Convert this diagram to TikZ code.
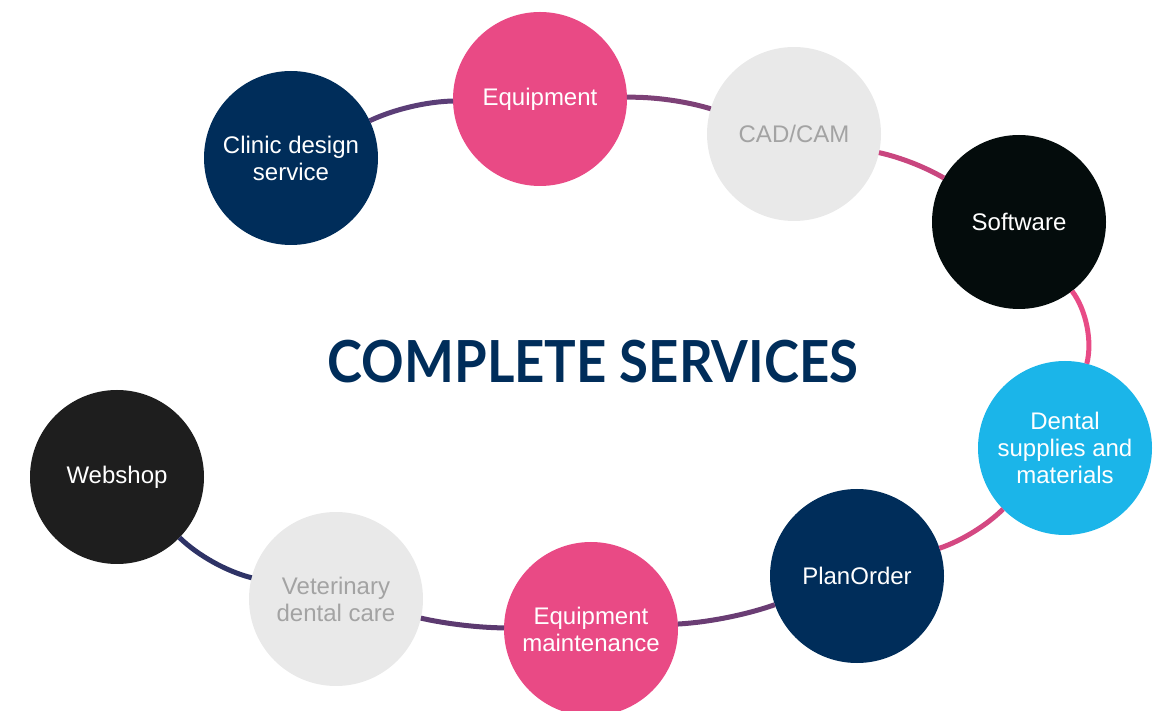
\documentclass[tikz,border=0pt]{standalone}
\usepackage{fontspec}
\setmainfont{Liberation Sans}
\newfontfamily\titlefont{Lato}
\usepackage{tikz}
\definecolor{navy}{HTML}{002D5A}
\definecolor{rose}{HTML}{E94A85}
\definecolor{pale}{HTML}{E9E9E9}
\definecolor{paletext}{HTML}{A3A3A3}
\definecolor{ink}{HTML}{040C0C}
\definecolor{sky}{HTML}{1BB5E9}
\definecolor{coal}{HTML}{1E1E1E}
\definecolor{lineA}{HTML}{5B3E77}
\definecolor{lineB}{HTML}{7D4177}
\definecolor{lineC}{HTML}{C9467F}
\definecolor{lineD}{HTML}{E84B86}
\definecolor{lineE}{HTML}{D44882}
\definecolor{lineF}{HTML}{6A3D74}
\definecolor{lineG}{HTML}{5C3A70}
\definecolor{lineH}{HTML}{2E3366}
\tikzstyle{service}=[circle, inner sep=0, outer sep=0, minimum size=174pt, align=center,
                     text=white, font=\fontsize{24}{27}\selectfont]
\tikzstyle{link}=[line width=5pt, looseness=0.8]
\begin{document}
\begin{tikzpicture}[x=1pt, y=1pt]
        \useasboundingbox (0, 0) rectangle (1157, 710);
        \node[service, fill=navy] (S1) at (291, 552) {Clinic design\\service};
        \node[service, fill=rose] (S2) at (540, 611) {Equipment};
        \node[service, fill=pale, text=paletext] (S3) at (794, 576) {CAD/CAM};
        \node[service, fill=ink] (S4) at (1019, 488) {Software};
        \node[service, fill=sky] (S5) at (1065, 262) {Dental\\supplies and\\materials};
        \node[service, fill=navy] (S6) at (857, 134) {PlanOrder};
        \node[service, fill=rose] (S7) at (591, 81) {Equipment\\maintenance};
        \node[service, fill=pale, text=paletext] (S8) at (336, 111) {Veterinary\\dental care};
        \node[service, fill=coal] (S9) at (117, 233) {Webshop};
        \draw[link, lineA] (S1) to[bend left=12] (S2);
        \draw[link, lineB] (S2) to[bend left=9] (S3);
        \draw[link, lineC] (S3) to[bend left=9] (S4);
        \draw[link, lineD] (S4) to[bend left=26] (S5);
        \draw[link, lineE] (S5) to[bend left=13] (S6);
        \draw[link, lineF] (S6) to[bend left=8] (S7);
        \draw[link, lineG] (S7) to[bend left=6] (S8);
        \draw[link, lineH] (S8) to[bend left=15] (S9);
        \node[text=navy, font=\titlefont\bfseries\fontsize{58}{60}\selectfont] (title) at (593, 348) {\scalebox{0.91}[1]{COMPLETE SERVICES}};
    \end{tikzpicture}
\end{document}
